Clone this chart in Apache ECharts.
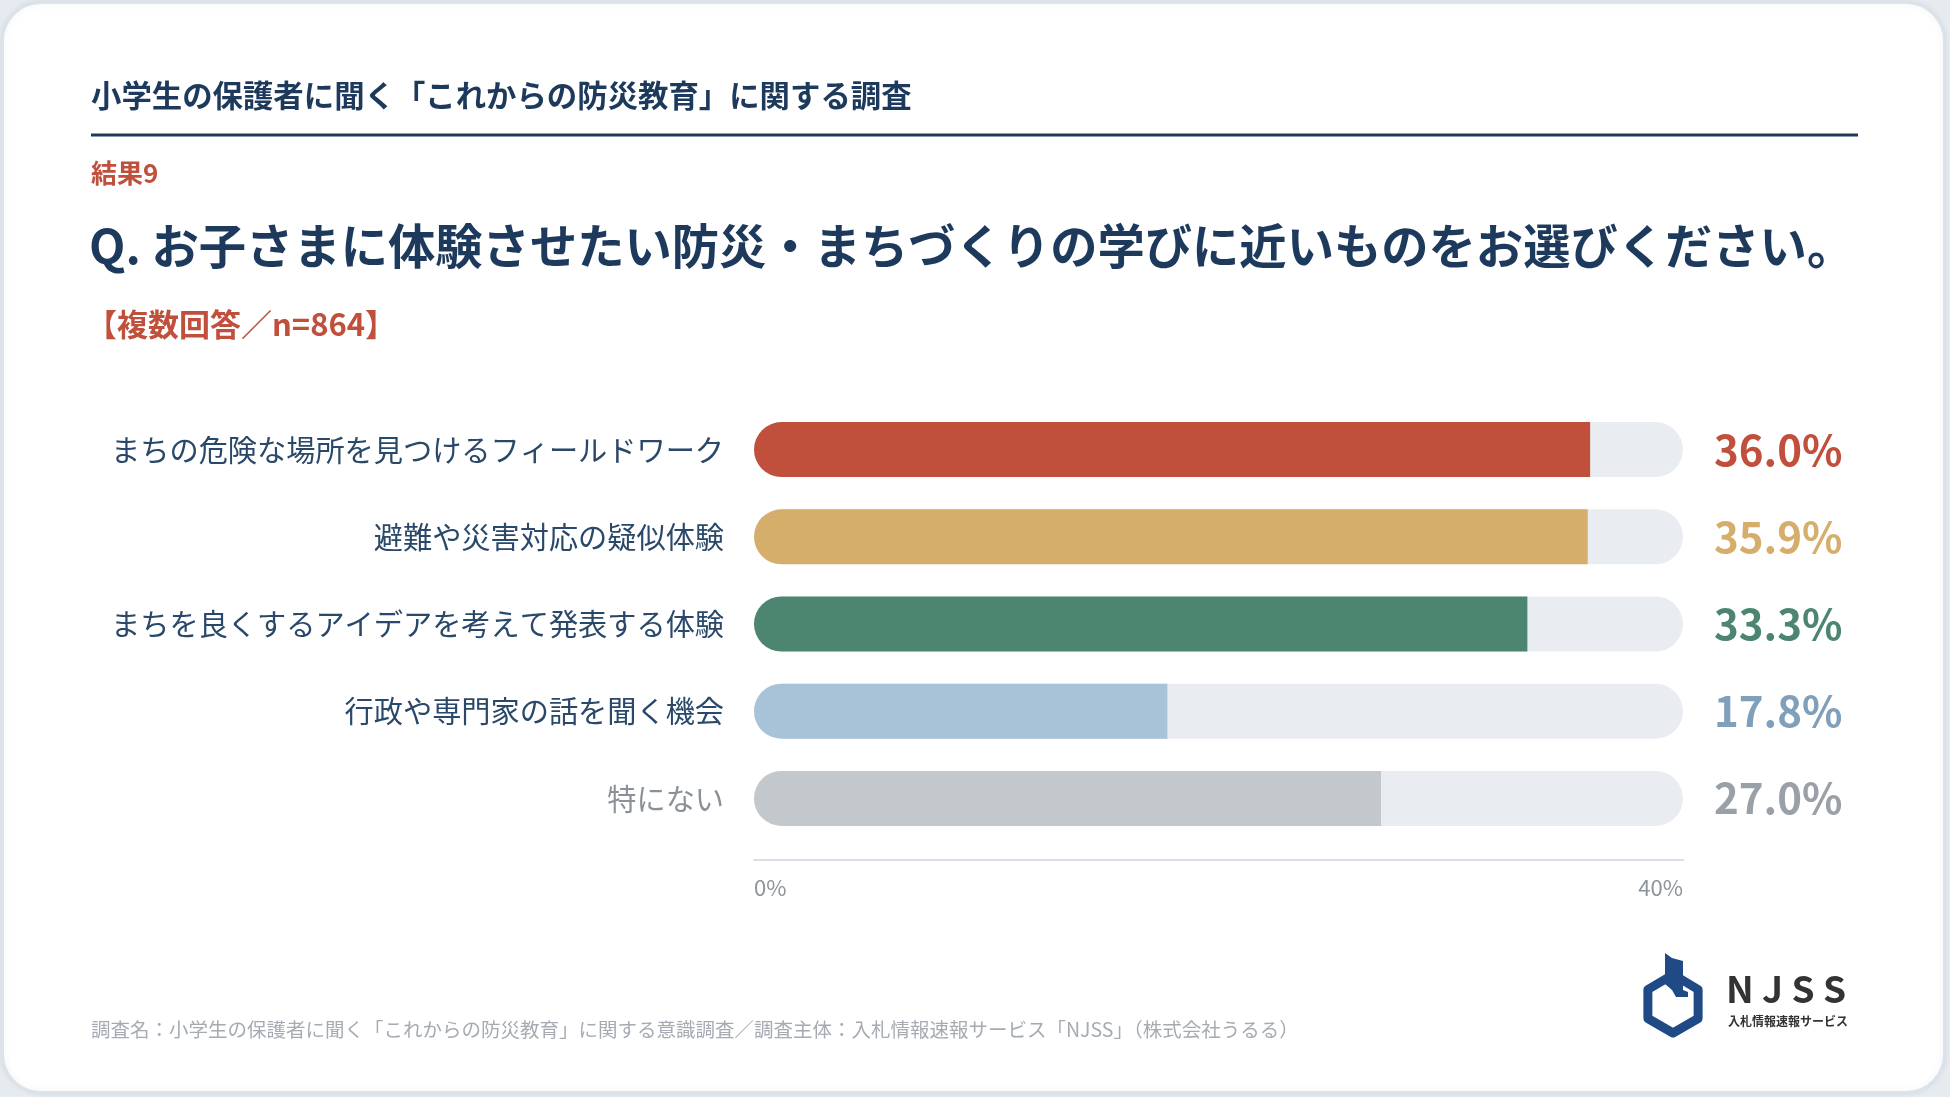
<!DOCTYPE html>
<html lang="ja">
<head>
<meta charset="utf-8">
<title>防災教育 調査 結果9</title>
<script src="https://cdn.jsdelivr.net/npm/echarts@6/dist/echarts.min.js"></script>
<style>
  html, body { margin: 0; padding: 0; background: #e6ebf0; }
  #chart { width: 1950px; height: 1097px; }
</style>
</head>
<body>
<div id="chart"></div>
<script>
// 設問の選択肢と回答率（%）
const categories = [
  'まちの危険な場所を見つけるフィールドワーク',
  '避難や災害対応の疑似体験',
  'まちを良くするアイデアを考えて発表する体験',
  '行政や専門家の話を聞く機会',
  '特にない'
];
const values = [36.0, 35.9, 33.3, 17.8, 27.0];
const barColors = ['#c0503c', '#d6ae6b', '#4d8670', '#a8c3d7', '#c3c8cd'];
const valueColors = ['#c0503c', '#d6ae6b', '#4d8670', '#7f9fba', '#9aa0a8'];
const labelColors = ['#2a4869', '#2a4869', '#2a4869', '#2a4869', '#8b9199'];
const axisMax = 40;

const FONT = '"Noto Sans CJK JP", "Noto Sans", sans-serif';
const NAVY = '#1d3a5c';

const chart = echarts.init(document.getElementById('chart'));

// ロゴ（六角形 + 旗）
const cx = 1673, cy = 1004, R = 29;
const hexPts = [
  [cx + 6, cy - R + 3],
  [cx + R * 0.866, cy - R / 2],
  [cx + R * 0.866, cy + R / 2],
  [cx, cy + R],
  [cx - R * 0.866, cy + R / 2],
  [cx - R * 0.866, cy - R / 2],
  [cx - 4, cy - R + 2]
];

chart.setOption({
  textStyle: { fontFamily: FONT },
  graphic: [
    {
      type: 'rect', z: -10, silent: true,
      shape: { x: 3, y: 3, width: 1941, height: 1089, r: 38 },
      style: { fill: '#ffffff', stroke: '#dde3ea', lineWidth: 2, shadowBlur: 6, shadowColor: 'rgba(40,60,90,0.10)' }
    },
    {
      type: 'text', left: 91, top: 80,
      style: { text: '小学生の保護者に聞く「これからの防災教育」に関する調査', font: `bold 30.4px ${FONT}`, fill: NAVY }
    },
    {
      type: 'line',
      shape: { x1: 91, y1: 135, x2: 1858, y2: 135 },
      style: { stroke: NAVY, lineWidth: 3 }
    },
    {
      type: 'text', left: 91, top: 160,
      style: { text: '結果9', font: `bold 26px ${FONT}`, fill: '#c0503c' }
    },
    {
      type: 'text', left: 89, top: 222,
      style: { text: 'Q. お子さまに体験させたい防災・まちづくりの学びに近いものをお選びください。', font: `bold 47.3px ${FONT}`, fill: NAVY }
    },
    {
      type: 'text', left: 86, top: 309,
      style: { text: '【複数回答／n=864】', font: `bold 31px ${FONT}`, fill: '#c0503c' }
    },
    {
      type: 'text', left: 91, top: 1020,
      style: { text: '調査名：小学生の保護者に聞く「これからの防災教育」に関する意識調査／調査主体：入札情報速報サービス「NJSS」（株式会社うるる）', font: `19.5px ${FONT}`, fill: '#a6abb3' }
    },
    {
      type: 'polyline',
      shape: { points: hexPts },
      style: { stroke: '#1f4a86', lineWidth: 9, fill: null, lineJoin: 'round' }
    },
    {
      type: 'polygon',
      shape: { points: [[1665, 953], [1672, 958], [1683, 961], [1683, 990], [1688, 992], [1688, 997], [1676, 997], [1672, 990], [1665, 984]] },
      style: { fill: '#1f4a86' }
    },
    {
      type: 'text', left: 1726, top: 970,
      style: { text: 'N J S S', font: `bold 37px ${FONT}`, fill: '#333333' }
    },
    {
      type: 'text', left: 1728, top: 1015,
      style: { text: '入札情報速報サービス', font: `bold 12px ${FONT}`, fill: '#333333' }
    }
  ],
  grid: { left: 754, right: 267, top: 406, height: 436 },
  xAxis: {
    type: 'value',
    min: 0, max: axisMax, interval: axisMax,
    offset: 18,
    splitLine: { show: false },
    axisTick: { show: false },
    axisLine: { show: true, lineStyle: { color: '#d7dee6', width: 2 } },
    axisLabel: {
      formatter: '{value}%', margin: 17, fontSize: 22, color: '#8d949d',
      alignMinLabel: 'left', alignMaxLabel: 'right'
    }
  },
  yAxis: [
    {
      type: 'category', data: categories, inverse: true,
      axisLine: { show: false }, axisTick: { show: false },
      axisLabel: {
        margin: 30, fontSize: 29.2,
        color: (v, i) => labelColors[i]
      }
    },
    {
      type: 'category', data: values.map(v => v.toFixed(1) + '%'), inverse: true,
      position: 'right',
      axisLine: { show: false }, axisTick: { show: false },
      axisLabel: {
        margin: 31, fontSize: 42, fontWeight: 'bold',
        color: (v, i) => valueColors[i]
      }
    }
  ],
  series: [{
    type: 'bar',
    yAxisIndex: 0,
    barWidth: 55,
    data: values.map((v, i) => ({
      value: v,
      itemStyle: { color: barColors[i], borderRadius: [27.5, 0, 0, 27.5] }
    })),
    showBackground: true,
    backgroundStyle: { color: '#e9edf1', borderRadius: 27.5 },
    animation: false
  }]
});
</script>
</body>
</html>
